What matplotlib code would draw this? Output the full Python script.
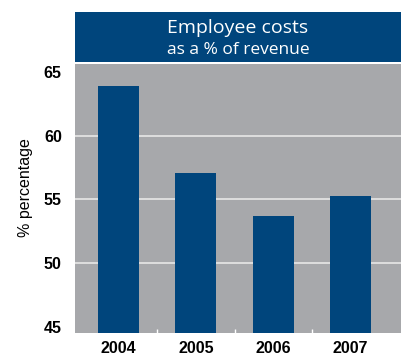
import matplotlib

matplotlib.use("Agg")
import matplotlib.pyplot as plt  # noqa: E402
from matplotlib.patches import Rectangle  # noqa: E402

years = ["2004", "2005", "2006", "2007"]
cost_pct = [63.9, 57.1, 53.7, 55.3]
yticks = [45, 50, 55, 60, 65]
grid_at = [50, 55, 60]

BLUE = "#00457C"
GRAY = "#A7A8AB"

W, H = 403, 356
fig = plt.figure(figsize=(W / 100, H / 100), dpi=100, facecolor="white")

# plot area in pixel terms -> figure fractions
left, right, top, bottom = 75, 401, 64, 333
ax = fig.add_axes([left / W, 1 - bottom / H, (right - left) / W, (bottom - top) / H])
ax.set_facecolor(GRAY)

x = range(len(years))
for g in grid_at:
    ax.axhline(g, color="#E2E2E2", lw=1.3, zorder=1)
ax.bar(x, cost_pct, width=0.53, color=BLUE, zorder=2)

ax.set_xlim(-0.565, 3.655)
ax.set_ylim(44.5, 65.65)
ax.set_yticks(yticks)
ax.set_xticks(list(x))
ax.set_xticklabels(years)
ax.set_xticks([0.5, 1.5, 2.5], minor=True)
ax.tick_params(axis="both", which="major", length=0, labelsize=11.5)
ax.tick_params(axis="y", pad=9.5)
ax.tick_params(axis="x", pad=6)
ax.tick_params(axis="x", which="minor", direction="in", length=3, width=1,
               color="white")
for lab in ax.get_xticklabels() + ax.get_yticklabels():
    lab.set_fontweight("bold")
    lab.set_family("Liberation Sans")
for s in ax.spines.values():
    s.set_visible(False)
ax.set_ylabel("% percentage", fontsize=11.5, family="Liberation Sans")
ax.yaxis.set_label_coords(-0.128, 0.54)

# title band
band_top, band_bot = 12, 62
fig.patches.append(Rectangle((left / W, 1 - band_bot / H), (right - left) / W,
                             (band_bot - band_top) / H, transform=fig.transFigure,
                             facecolor=BLUE, edgecolor="none"))
cx = (left + right) / 2 / W
fig.text(cx, 1 - 28 / H, "Employee costs", color="white", fontsize=14,
         family="Open Sans", fontweight="medium", ha="center", va="center")
fig.text(cx, 1 - 50 / H, "as a % of revenue", color="white", fontsize=12.5,
         family="Open Sans", ha="center", va="center")

fig.savefig("out.png", dpi=100)
